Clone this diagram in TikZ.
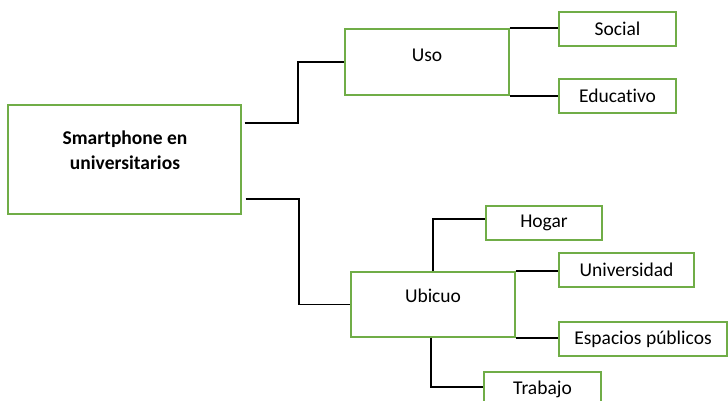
\documentclass[tikz,border=0pt]{standalone}
\usepackage{fontspec}
\setmainfont{Carlito}[Ligatures={NoCommon}]
\usepackage{xcolor}
\usetikzlibrary{calc,positioning}
\definecolor{boxgreen}{HTML}{70AD47}

\begin{document}
\begin{tikzpicture}[x=1pt,y=-1pt]
	\tikzstyle{every node}=[font=\fontsize{19.5}{25}\selectfont]
	\tikzstyle{box}=[draw=boxgreen, line width=1.3pt, inner sep=0pt, minimum height=34pt]
	\tikzstyle{link}=[line width=1.8pt, black]
	\fill [white] (0,0) rectangle (728,401);
	\useasboundingbox (0,0) rectangle (728,401);
	\node [box, minimum width=233pt, minimum height=109pt] (root) at (124.5,159.5) {};
	\node [font=\fontsize{19.5}{25}\selectfont\bfseries, align=center] (roottext) at (125,150.5) {Smartphone en\\universitarios};
	\node [box, minimum width=164pt, minimum height=66pt] (uso) at (427,62) {};
	\node (usotext) at (427,55) {Uso};
	\node [box, minimum width=164pt, minimum height=65pt] (ubicuo) at (433,304.5) {};
	\node (ubicuotext) at (433,295.5) {Ubicuo};
	\node [box, minimum width=117pt] (social) at (617.5,29) {Social};
	\node [box, minimum width=117pt] (educativo) at (617.5,96) {Educativo};
	\node [box, minimum width=116pt] (hogar) at (544,223) {Hogar};
	\node [box, minimum width=135pt] (universidad) at (626.5,270) {Universidad};
	\node [box, minimum width=168pt] (espacios) at (643,339) {Espacios públicos};
	\node [box, minimum width=117pt] (trabajo) at (542.5,389) {Trabajo};
	\draw [link] ($(root.north east)+(3,19)$) -- ++(53,0) |- (uso.west);
	\draw [link] ($(root.south east)+(4,-16)$) -- ++(53,0) |- (ubicuo.west);
	\draw [link] (uso.north east) -- (uso.north east -| social.west);
	\draw [link] (uso.south east) -- (uso.south east -| educativo.west);
	\draw [link] (ubicuo.north) |- ([yshift=4pt]hogar.west);
	\draw [link] (ubicuo.north east) -- (ubicuo.north east -| universidad.west);
	\draw [link] (ubicuo.south east) -- (ubicuo.south east -| espacios.west);
	\draw [link] ([xshift=-2pt]ubicuo.south) |- ([yshift=2pt]trabajo.west);
\end{tikzpicture}
\end{document}
